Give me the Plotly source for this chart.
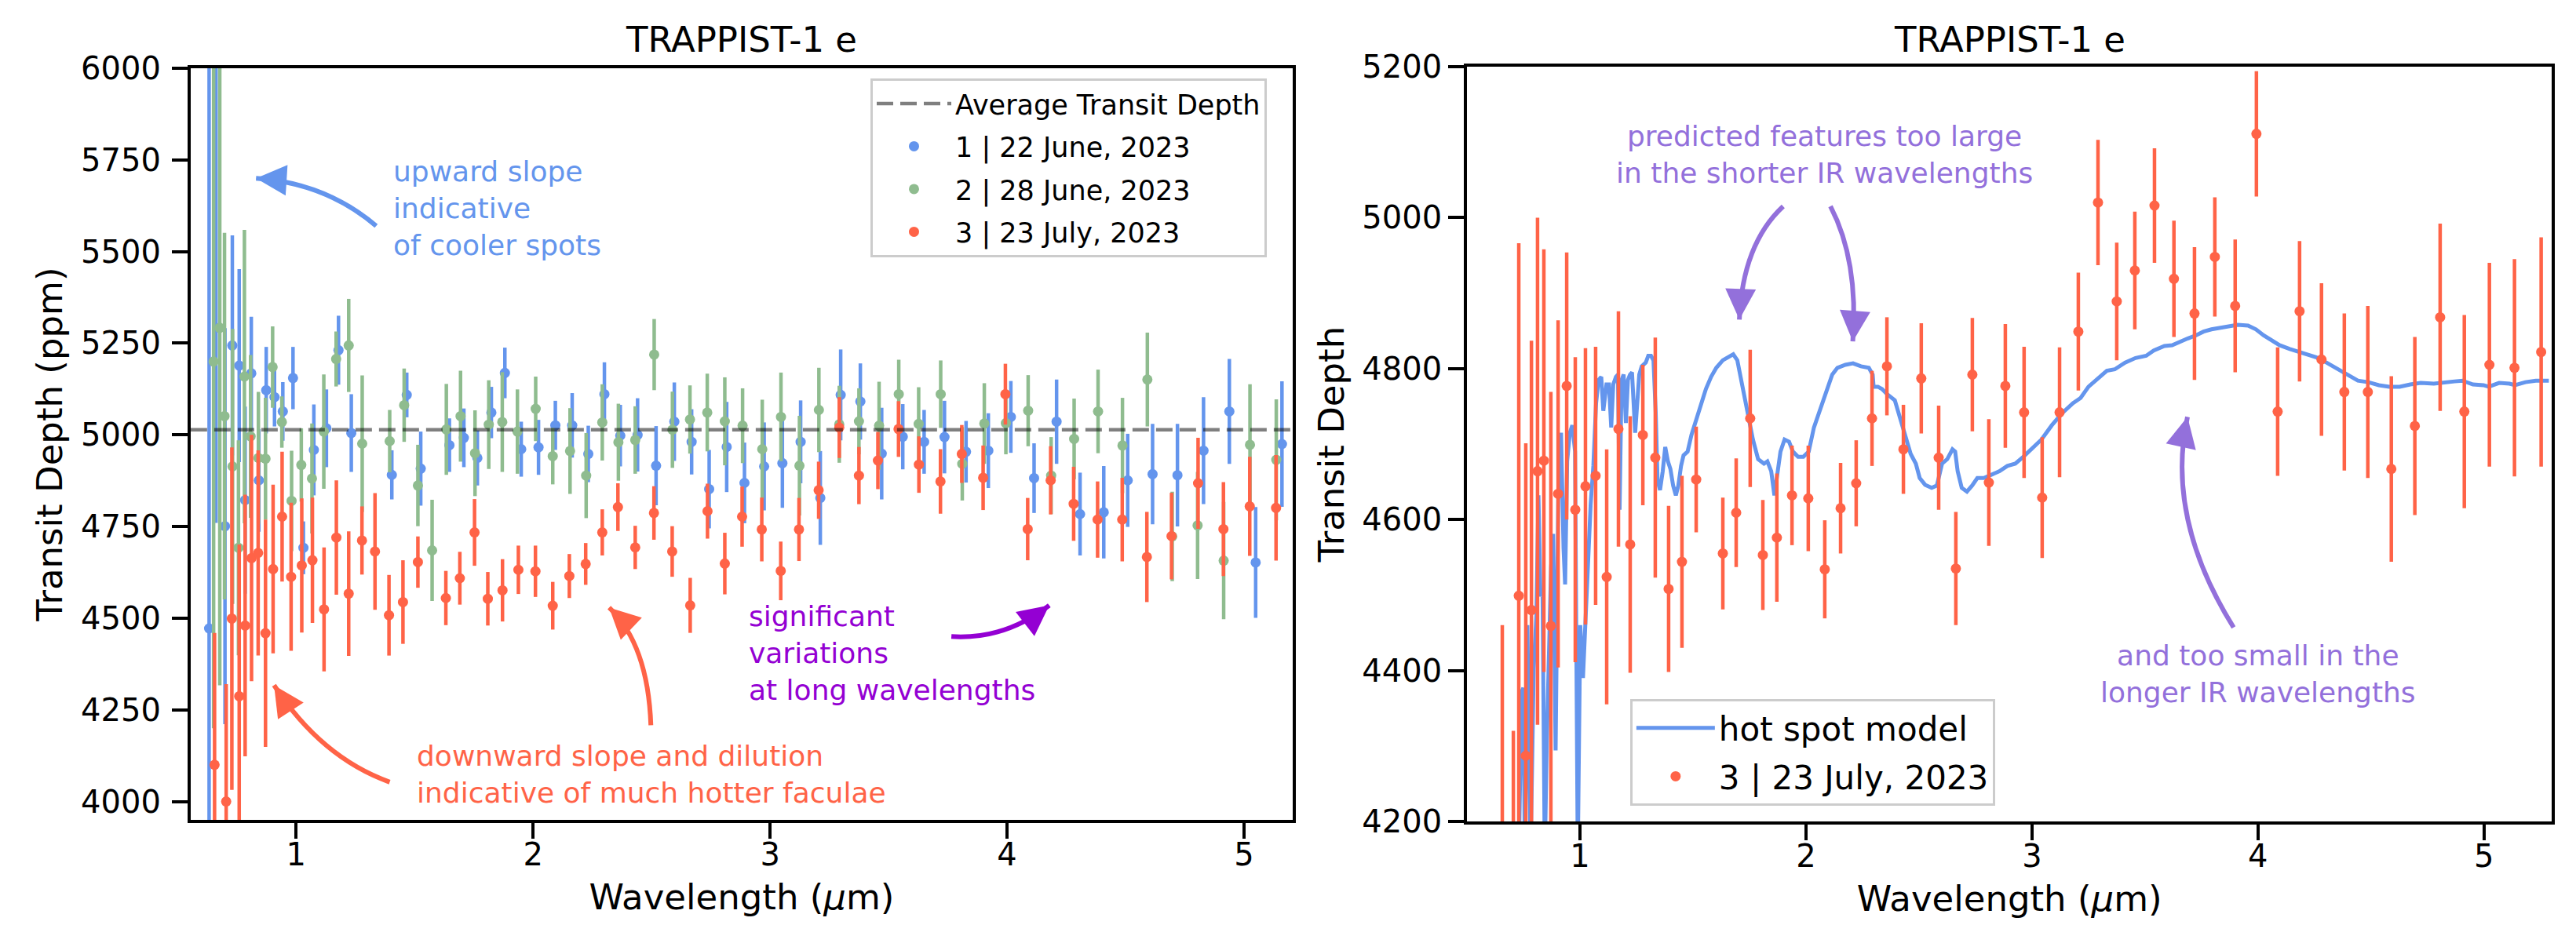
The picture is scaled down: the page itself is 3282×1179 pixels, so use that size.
import plotly.graph_objects as go
import math

W, H = 3282, 1179

# ---------------- data ----------------
avg_depth = 5014

red_wl = [0.656, 0.705, 0.729, 0.760, 0.785, 0.812, 0.840, 0.871, 0.903, 0.941, 0.979, 1.024, 1.069,
          1.118, 1.170, 1.222, 1.278, 1.333, 1.392, 1.451, 1.514, 1.632, 1.691, 1.753, 1.809, 1.871,
          1.938, 2.010, 2.083, 2.153, 2.222, 2.292, 2.358, 2.431, 2.510, 2.587, 2.663, 2.736, 2.809,
          2.882, 2.965, 3.045, 3.122, 3.205, 3.292, 3.375, 3.455, 3.542, 3.628, 3.719, 3.809, 3.899,
          3.993, 4.087, 4.184, 4.281, 4.382, 4.486, 4.590, 4.694, 4.806, 4.913, 5.024, 5.135, 5.253]
red_depth = [4100, 4000, 4499, 4287, 4480, 4664, 4678, 4459, 4634, 4777, 4613, 4644, 4658,
             4524, 4720, 4567, 4712, 4682, 4508, 4544, 4653, 4555, 4609, 4734, 4553, 4576,
             4632, 4628, 4534, 4615, 4648, 4734, 4803, 4693, 4787, 4682, 4535, 4792, 4649,
             4777, 4742, 4629, 4742, 4849, 5020, 4889, 4930, 5016, 4919, 4873, 4948, 4883,
             5111, 4743, 4876, 4812, 4769, 4769, 4667, 4724, 4868, 4743, 4805, 4801, 4822]
red_err = [360, 320, 467, 414, 357, 336, 280, 310, 230, 177, 202, 183, 171,
           169, 156, 170, 93, 159, 110, 114, 70, 74, 72, 91, 73, 85,
           66, 70, 65, 60, 57, 63, 65, 59, 73, 69, 75, 75, 84,
           82, 87, 80, 86, 78, 83, 78, 78, 76, 77, 88, 79, 88,
           83, 85, 93, 101, 104, 114, 123, 118, 124, 128, 135, 144, 152]

blue_wl = [0.633, 0.662, 0.700, 0.731, 0.760, 0.785, 0.811, 0.843, 0.874, 0.909, 0.944, 0.987, 1.031,
           1.075, 1.128, 1.179, 1.233, 1.404, 1.467, 1.526, 1.647, 1.708, 1.765, 1.824, 1.881, 1.950,
           2.023, 2.094, 2.165, 2.233, 2.301, 2.368, 2.441, 2.519, 2.596, 2.669, 2.743, 2.817, 2.892,
           2.975, 3.052, 3.129, 3.212, 3.298, 3.381, 3.471, 3.560, 3.650, 3.736, 3.827, 3.921, 4.016,
           4.114, 4.209, 4.308, 4.408, 4.509, 4.614, 4.719, 4.829, 4.938, 5.049, 5.160]
blue_depth = [4472, 6100, 4751, 5244, 5189, 4822, 5168, 4876, 5122, 5103, 5064, 5155, 4692,
              4959, 5018, 5231, 5005, 4891, 5109, 4908, 4972, 4992, 4937, 5061, 5169, 4961,
              4966, 5026, 5026, 4948, 5111, 4998, 5000, 4916, 5036, 4981, 4852, 4967, 4869,
              4914, 4923, 4981, 4828, 5109, 5091, 4949, 4995, 4981, 4994, 4954, 4957, 5049,
              4882, 5036, 4784, 4789, 4876, 4893, 4890, 4957, 5064, 4652, 4975]
blue_err = [1600, 1340, 540, 300, 263, 255, 154, 140, 118, 80, 80, 85, 72,
            124, 106, 94, 106, 67, 61, 101, 73, 80, 75, 70, 69, 75,
            75, 67, 88, 77, 87, 84, 100, 108, 107, 89, 107, 123, 110,
            120, 122, 113, 128, 124, 104, 125, 89, 87, 99, 84, 102, 98,
            95, 115, 113, 126, 127, 137, 140, 146, 143, 151, 171]

green_wl = [0.652, 0.678, 0.698, 0.732, 0.757, 0.782, 0.808, 0.841, 0.871, 0.901, 0.940, 0.981, 1.022,
            1.067, 1.117, 1.169, 1.222, 1.279, 1.395, 1.456, 1.514, 1.574, 1.634, 1.694, 1.755, 1.813,
            1.870, 1.934, 2.011, 2.083, 2.156, 2.224, 2.292, 2.360, 2.431, 2.511, 2.588, 2.662, 2.735,
            2.809, 2.884, 2.967, 3.046, 3.124, 3.206, 3.292, 3.375, 3.460, 3.543, 3.627, 3.720, 3.811,
            3.904, 3.995, 4.089, 4.186, 4.283, 4.384, 4.487, 4.592, 4.697, 4.804, 4.914, 5.025, 5.136]
green_depth = [5200, 5292, 5051, 4914, 4692, 5159, 4996, 4937, 4935, 5185, 5035, 4820, 4918,
               4881, 5009, 5207, 5244, 4976, 4983, 5081, 4862, 4685, 5015, 5051, 4950, 5028,
               5035, 5009, 5071, 4942, 4956, 4889, 5034, 4980, 4986, 5219, 5014, 5042, 5061,
               5037, 5025, 4961, 5049, 4916, 5068, 5029, 5037, 5025, 5111, 5030, 5111, 4921,
               5031, 5032, 5066, 4889, 4989, 5064, 4971, 5151, 4723, 4753, 4657, 4973, 4932]
green_err = [1000, 975, 500, 375, 293, 400, 222, 180, 166, 111, 70, 137, 100,
             150, 156, 75, 127, 186, 85, 100, 111, 138, 124, 124, 117, 121,
             136, 115, 88, 77, 117, 116, 104, 105, 92, 97, 104, 93, 106,
             120, 102, 135, 121, 136, 115, 105, 90, 120, 94, 100, 92, 100,
             110, 85, 97, 105, 110, 114, 130, 128, 122, 146, 160, 165, 165]

model_wl = [0.729, 0.741, 0.749, 0.756, 0.767, 0.781, 0.795, 0.807, 0.816, 0.825, 0.834, 0.844, 0.853,
            0.862, 0.872, 0.881, 0.892, 0.904, 0.916, 0.927, 0.934, 0.943, 0.955, 0.966, 0.978, 0.990,
            1.001, 1.013, 1.024, 1.036, 1.047, 1.059, 1.071, 1.082, 1.094, 1.103, 1.117, 1.128, 1.138,
            1.147, 1.159, 1.168, 1.175, 1.184, 1.193, 1.203, 1.212, 1.221, 1.230, 1.244, 1.262, 1.273,
            1.291, 1.302, 1.314, 1.325, 1.335, 1.343, 1.354, 1.366, 1.377, 1.389, 1.400, 1.412, 1.424,
            1.435, 1.447, 1.458, 1.476, 1.493, 1.510, 1.534, 1.557, 1.580, 1.603, 1.632, 1.661, 1.678,
            1.696, 1.713, 1.730, 1.748, 1.765, 1.788, 1.814, 1.829, 1.846, 1.860, 1.875, 1.887, 1.905,
            1.925, 1.942, 1.965, 1.988, 2.012, 2.035, 2.064, 2.093, 2.116, 2.139, 2.174, 2.208, 2.243,
            2.278, 2.295, 2.299, 2.318, 2.336, 2.359, 2.393, 2.417, 2.440, 2.463, 2.486, 2.503, 2.527,
            2.556, 2.579, 2.602, 2.625, 2.648, 2.660, 2.671, 2.689, 2.712, 2.735, 2.758, 2.787, 2.822,
            2.856, 2.891, 2.926, 2.961, 2.995, 3.042, 3.088, 3.134, 3.181, 3.215, 3.250, 3.285, 3.331,
            3.366, 3.412, 3.458, 3.505, 3.539, 3.574, 3.586, 3.620, 3.655, 3.690, 3.725, 3.759, 3.794,
            3.840, 3.863, 3.910, 3.956, 3.991, 4.025, 4.060, 4.095, 4.141, 4.199, 4.257, 4.303, 4.350,
            4.396, 4.442, 4.488, 4.535, 4.581, 4.627, 4.674, 4.720, 4.778, 4.824, 4.870, 4.905, 4.951,
            4.998, 5.021, 5.067, 5.113, 5.137, 5.183, 5.229, 5.287]
model_depth = [4150, 4371, 4377, 4150, 4460, 4150, 4403, 4473, 4632, 4498, 4508, 4150, 4307,
               4435, 4537, 4581, 4294, 4639, 4715, 4562, 4514, 4677, 4715, 4725, 4690, 4150,
               4460, 4390, 4460, 4562, 4620, 4671, 4754, 4785, 4789, 4744, 4779, 4779, 4722,
               4779, 4789, 4792, 4613, 4785, 4792, 4728, 4785, 4792, 4795, 4715, 4792, 4803,
               4808, 4817, 4817, 4811, 4741, 4652, 4639, 4664, 4696, 4677, 4667, 4645, 4632,
               4645, 4671, 4685, 4690, 4712, 4728, 4754, 4773, 4789, 4801, 4811, 4817, 4819,
               4811, 4785, 4760, 4734, 4706, 4680, 4674, 4677, 4664, 4632, 4664, 4690, 4706,
               4703, 4690, 4683, 4683, 4690, 4722, 4747, 4773, 4792, 4801, 4805, 4807, 4803,
               4801, 4792, 4776, 4776, 4773, 4766, 4758, 4734, 4709, 4687, 4674, 4655, 4646,
               4642, 4645, 4674, 4680, 4693, 4690, 4664, 4642, 4637, 4645, 4655, 4655, 4659,
               4664, 4671, 4674, 4683, 4693, 4706, 4725, 4741, 4754, 4761, 4776, 4785, 4797,
               4799, 4808, 4814, 4817, 4824, 4828, 4830, 4831, 4836, 4840, 4844, 4849, 4852,
               4854, 4856, 4858, 4857, 4852, 4844, 4838, 4831, 4826, 4821, 4815, 4808, 4800,
               4792, 4784, 4782, 4778, 4776, 4776, 4779, 4781, 4780, 4782, 4783, 4784, 4779,
               4778, 4776, 4781, 4780, 4778, 4782, 4784, 4784]

left_yticks = [4000, 4250, 4500, 4750, 5000, 5250, 5500, 5750, 6000]
right_yticks = [4200, 4400, 4600, 4800, 5000, 5200]
xticks = [1, 2, 3, 4, 5]

# ---------------- colours / style ----------------
BLUE = '#6495ED'
GREEN = '#8FBC8F'
RED = '#FF6347'
VIOLET = '#9400D3'
MPURPLE = '#9370DB'
FONT = 'DejaVu Sans'

LX = [0.0740, 0.5018]; LY = [0.1137, 0.9262]
RX = [0.5695, 0.9906]; RY = [0.1120, 0.9279]
LXR = [0.555, 5.205]; LYR = [3950, 6000]
RXR = [0.5, 5.3]; RYR = [4200, 5200]

fig = go.Figure()


def errtrace(x, y, e, color, name, xa, ya, legend, rank):
    return go.Scatter(
        x=x, y=y, mode='markers', name=name, xaxis=xa, yaxis=ya,
        marker=dict(color=color, size=13, line=dict(width=0)),
        error_y=dict(type='data', array=e, visible=True, thickness=4.5, width=0, color=color),
        legend=legend, legendrank=rank, legendgroup=name + legend)


# left panel
fig.add_trace(errtrace(blue_wl, blue_depth, blue_err, BLUE, '1 | 22 June, 2023', 'x', 'y', 'legend', 2))
fig.add_trace(errtrace(green_wl, green_depth, green_err, GREEN, '2 | 28 June, 2023', 'x', 'y', 'legend', 3))
fig.add_trace(errtrace(red_wl, red_depth, red_err, RED, '3 | 23 July, 2023', 'x', 'y', 'legend', 4))
fig.add_trace(go.Scatter(x=LXR, y=[avg_depth, avg_depth], mode='lines', name='Average Transit Depth',
                         xaxis='x', yaxis='y', line=dict(color='rgba(0,0,0,0.5)', width=4.5, dash='21px,9px'),
                         legend='legend', legendrank=1, legendgroup='avg'))

# right panel
fig.add_trace(go.Scatter(x=model_wl, y=model_depth, mode='lines', name='hot spot model',
                         xaxis='x2', yaxis='y2', line=dict(color=BLUE, width=5),
                         legend='legend2', legendrank=1, legendgroup='model'))
fig.add_trace(errtrace(red_wl, red_depth, red_err, RED, '3 | 23 July, 2023', 'x2', 'y2', 'legend2', 2))

axis_common = dict(showline=True, mirror=True, linecolor='black', linewidth=4, ticks='outside',
                   ticklen=20, tickwidth=3.5, tickcolor='black', showgrid=False, zeroline=False,
                   automargin=False, tickfont=dict(family=FONT, size=40, color='black'))

xtitle = dict(text='Wavelength (<i>μ</i>m)', font=dict(size=45, family=FONT), standoff=18)

fig.update_layout(
    width=W, height=H, margin=dict(l=0, r=0, t=0, b=0, autoexpand=False),
    paper_bgcolor='white', plot_bgcolor='white',
    font=dict(family=FONT, color='black'),
    xaxis=dict(domain=LX, range=LXR, anchor='y', tickvals=xticks, ticklabelstandoff=-14, **axis_common,
               title=xtitle),
    yaxis=dict(domain=LY, range=LYR, anchor='x', tickvals=left_yticks, ticklabelstandoff=6, **axis_common,
               title=dict(text='Transit Depth (ppm)', font=dict(size=45, family=FONT), standoff=10)),
    xaxis2=dict(domain=RX, range=RXR, anchor='y2', tickvals=xticks, ticklabelstandoff=-14, **axis_common,
                title=xtitle),
    yaxis2=dict(domain=RY, range=RYR, anchor='x2', tickvals=right_yticks, **axis_common,
                title=dict(text='Transit Depth', font=dict(size=45, family=FONT), standoff=10)),
    legend=dict(x=0.3379, y=0.9155, xanchor='left', yanchor='top',
                font=dict(size=35, family=FONT, color='black'), bgcolor='rgba(255,255,255,0.8)',
                bordercolor='#cccccc', borderwidth=3, itemwidth=95, tracegroupgap=6),
    legend2=dict(x=0.6328, y=0.1289, xanchor='left', yanchor='bottom',
                 font=dict(size=42, family=FONT, color='black'), bgcolor='rgba(255,255,255,0.8)',
                 bordercolor='#cccccc', borderwidth=3, itemwidth=100, tracegroupgap=4),
    showlegend=True,
)

annotations = []
shapes = []

# subplot titles
for dom in (LX, RX):
    annotations.append(dict(text='TRAPPIST-1 e', xref='paper', yref='paper', x=(dom[0] + dom[1]) / 2,
                            y=1 - 50 / H, xanchor='center', yanchor='middle', showarrow=False,
                            font=dict(size=45, family=FONT, color='black')))

# text annotations (data coords)
texts = [
    ('upward slope<br>indicative<br>of cooler spots', 1.404, 5617, 'x', 'y', BLUE, 'left'),
    ('downward slope and dilution<br>indicative of much hotter faculae', 1.503, 4073, 'x', 'y', RED, 'left'),
    ('significant<br>variations<br>at long wavelengths', 2.904, 4405, 'x', 'y', VIOLET, 'left'),
    ('predicted features too large<br>in the shorter IR wavelengths', 2.083, 5084, 'x2', 'y2', MPURPLE, 'center'),
    ('and too small in the<br>longer IR wavelengths', 4.0, 4395, 'x2', 'y2', MPURPLE, 'center'),
]
for t, x, y, xr, yr, c, al in texts:
    annotations.append(dict(text=t, x=x, y=y, xref=xr, yref=yr, showarrow=False, xanchor=al,
                            yanchor='middle', align=al, font=dict(size=36, family=FONT, color=c)))

# curved arrows: start, control, end (data coords)
arrows = [
    ((1.338, 5570), (1.1225, 5688), (0.831, 5700), 'x', 'y', BLUE),
    ((1.395, 4053), (1.106, 4120), (0.907, 4317), 'x', 'y', RED),
    ((2.497, 4208), (2.485, 4428), (2.321, 4529), 'x', 'y', RED),
    ((3.765, 4450), (3.990, 4441), (4.178, 4535), 'x', 'y', VIOLET),
    ((1.899, 5015), (1.719, 4965), (1.705, 4865), 'x2', 'y2', MPURPLE),
    ((2.108, 5015), (2.233, 4943), (2.207, 4836), 'x2', 'y2', MPURPLE),
    ((3.892, 4457), (3.590, 4602), (3.688, 4736), 'x2', 'y2', MPURPLE),
]


def scales(xr):
    if xr == 'x':
        dx, dy, rx, ry = LX, LY, LXR, LYR
    else:
        dx, dy, rx, ry = RX, RY, RXR, RYR
    sx = (dx[1] - dx[0]) * W / (rx[1] - rx[0])
    sy = (dy[1] - dy[0]) * H / (ry[1] - ry[0])
    return sx, sy


for p0, c, p1, xr, yr, col in arrows:
    shapes.append(dict(type='path', xref=xr, yref=yr,
                       path=f'M {p0[0]},{p0[1]} Q {c[0]},{c[1]} {p1[0]},{p1[1]}',
                       line=dict(color=col, width=6)))
    sx, sy = scales(xr)
    vx = (c[0] - p1[0]) * sx
    vy = -(c[1] - p1[1]) * sy
    n = math.hypot(vx, vy)
    L = 30
    annotations.append(dict(x=p1[0], y=p1[1], xref=xr, yref=yr, text='', showarrow=True,
                            ax=vx / n * L, ay=vy / n * L, axref='pixel', ayref='pixel',
                            arrowhead=2, arrowsize=1.3, arrowwidth=6, arrowcolor=col, standoff=0))

fig.update_layout(annotations=annotations, shapes=shapes)

# the reference picture has a dark band down its left and right edges: show the page's
# background there by giving the page a black background and insetting the figure.
post = ("document.body.style.margin='0px';"
        "document.body.style.background='black';"
        "document.documentElement.style.background='black';")

fig.write_html('out.html', config={'displayModeBar': False}, post_script=post)
